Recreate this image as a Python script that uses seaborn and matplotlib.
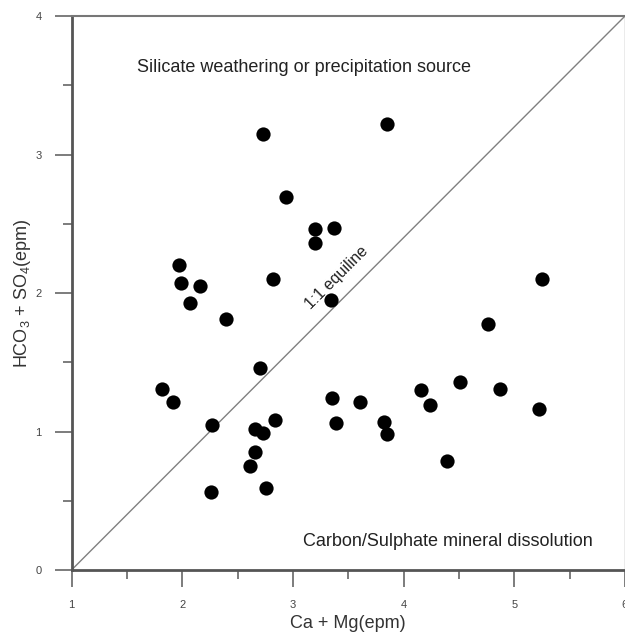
import numpy as np
import pandas as pd
import matplotlib
matplotlib.use("Agg")
import matplotlib.pyplot as plt
from matplotlib.ticker import MultipleLocator
import seaborn as sns

ca_mg = [2.73, 2.94, 3.20, 3.20, 2.82, 1.97, 1.99, 2.16, 2.07, 2.40, 3.85, 3.37, 3.34, 5.25,
         2.70, 1.82, 1.92, 2.27, 2.84, 2.66, 2.73, 2.66, 2.61, 2.26, 2.76,
         4.76, 4.51, 4.87, 4.16, 4.24, 5.22, 3.35, 3.61, 3.39, 3.82, 3.85, 4.39]
hco3_so4 = [3.15, 2.69, 2.46, 2.36, 2.10, 2.20, 2.07, 2.05, 1.93, 1.81, 3.22, 2.47, 1.95, 2.10,
            1.46, 1.31, 1.21, 1.05, 1.08, 1.02, 0.99, 0.85, 0.75, 0.56, 0.59,
            1.78, 1.36, 1.31, 1.30, 1.19, 1.16, 1.24, 1.21, 1.06, 1.07, 0.98, 0.79]
line_x = [1, 6]
line_y = [0, 4]

sns.set_style("white")
plt.rcParams['font.family'] = ['Liberation Sans', 'DejaVu Sans']
plt.rcParams['mathtext.fontset'] = 'custom'
plt.rcParams['mathtext.rm'] = 'Liberation Sans'

df = pd.DataFrame({"x": ca_mg, "y": hco3_so4})

fig = plt.figure(figsize=(6.25, 6.34), dpi=100)
ax = fig.add_axes([0.1144, 0.1009, 0.8856, 0.8738])

ax.plot(line_x, line_y, color="#808080", lw=1.0, zorder=1)
sns.scatterplot(data=df, x="x", y="y", ax=ax, color="black", s=105, edgecolor="black",
                linewidth=0, zorder=3, clip_on=False)

ax.set_xlim(1, 6)
ax.set_ylim(0, 4)
ax.xaxis.set_major_locator(MultipleLocator(1))
ax.xaxis.set_minor_locator(MultipleLocator(0.5))
ax.yaxis.set_major_locator(MultipleLocator(1))
ax.yaxis.set_minor_locator(MultipleLocator(0.5))

for side in ["left", "bottom"]:
    ax.spines[side].set_color("#555555")
    ax.spines[side].set_linewidth(2.0)
ax.spines["top"].set_color("#777777")
ax.spines["top"].set_linewidth(1.5)
ax.spines["right"].set_color("#999999")
ax.spines["right"].set_linewidth(1.0)

ax.tick_params(axis="both", which="major", direction="out", length=12.5, width=1.2,
               color="#666666", labelsize=8, labelcolor="#444444", pad=9)
ax.tick_params(axis="both", which="minor", direction="out", length=6.3, width=1.2,
               color="#666666")
ax.tick_params(left=True, bottom=True, which="both")

ax.set_xlabel("Ca + Mg(epm)", fontsize=13, color="#333333", labelpad=4)
ax.set_ylabel(r"HCO$_3$ + SO$_4$(epm)", fontsize=13, color="#333333", labelpad=1.5)

ax.text(3.10, 3.63, "Silicate weathering or precipitation source", fontsize=13,
        color="#222222", ha="center", va="center")
ax.text(4.4, 0.205, "Carbon/Sulphate mineral dissolution", fontsize=13,
        color="#222222", ha="center", va="center")
ax.text(3.40, 2.11, "1:1 equiline", fontsize=11.5, color="#222222", ha="center",
        va="center", rotation=45, rotation_mode="anchor")

fig.savefig("out.png", dpi=100)
